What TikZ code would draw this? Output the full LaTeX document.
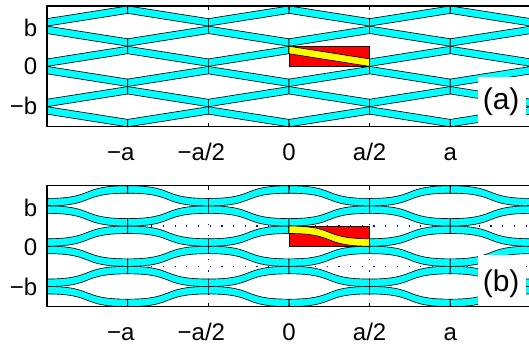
\documentclass[tikz,border=0pt]{standalone}
\usepackage{fontspec}
\setmainfont{Liberation Sans}
\definecolor{bandcyan}{RGB}{0,255,255}
\definecolor{cellred}{RGB}{255,0,0}
\definecolor{cellyellow}{RGB}{255,255,0}
\definecolor{dotblue}{RGB}{0,0,255}
\tikzset{
  band/.style={fill=bandcyan, draw=black, line width=0.65pt, line join=miter},
  cellrect/.style={fill=cellred, draw=black, line width=0.65pt},
  cellband/.style={fill=cellyellow, draw=black, line width=0.65pt},
  frame/.style={draw=black, line width=1.2pt},
  tickmark/.style={draw=black, line width=0.8pt},
  dotline/.style={draw=dotblue, line width=1.2pt, dash pattern=on 1.2pt off 10.5pt},
  ticklabel/.style={inner sep=0pt, font=\fontsize{24}{28}\selectfont},
  panellabel/.style={inner sep=0pt, font=\fontsize{30}{34}\selectfont},
  labelbox/.style={fill=white, draw=none}
}
\newcommand{\bandw}{0.37}
\newcommand{\kk}{0.6}
\begin{document}
\begin{tikzpicture}[x=1pt,y=1pt]
\useasboundingbox (0,0) rectangle (529,348);
\clip (0,0) rectangle (529,348);
% ---------------- panel (a) ----------------
\begin{scope}[shift={(289pt,281.6pt)}, x=80.65pt, y=20.15pt]
  \foreach \m in {-3,...,2}{
    \foreach \n in {-3,...,2}{
      \pgfmathtruncatemacro{\pp}{mod(\m+\n+10,2)}
      \ifnum\pp=0
        \draw[band] ({\m},{\n+1}) -- ({\m+1},{\n+\bandw}) -- ({\m+1},{\n}) -- ({\m},{\n+1-\bandw}) -- cycle;
      \else
        \draw[band] ({\m},{\n}) -- ({\m+1},{\n+1-\bandw}) -- ({\m+1},{\n+1}) -- ({\m},{\n+\bandw}) -- cycle;
      \fi
    }
  }
  \draw[cellrect] (0,0) rectangle (1,1);
  \draw[cellband] (0,1) -- (1,\bandw) -- (1,0) -- (0,1-\bandw) -- cycle;
  \fill[labelbox] (2.34,-3) rectangle (2.94,-0.52);
  \node[panellabel] (la) at (2.63,-1.75) {(a)};
  \draw[frame] (-3,-3) rectangle (3,3);
  \foreach \t in {-2,...,2}{
    \draw[tickmark] (\t,-3) -- (\t,-2.8);
    \draw[tickmark] (\t,3) -- (\t,2.8);
  }
  \foreach \t in {-2,0,2}{
    \draw[tickmark] (-3,\t) -- (-2.95,\t);
    \draw[tickmark] (3,\t) -- (2.95,\t);
  }
\end{scope}
% y tick labels (a)
\node[ticklabel, anchor=base east] (ayb)  at (37.5,311.3) {b};
\node[ticklabel, anchor=base east] (ay0)  at (37.5,273) {0};
\node[ticklabel, anchor=base east] (aymb) at (37.5,233) {−b};
% x tick labels (a)
\node[ticklabel, anchor=base] (axm2) at (127.7,187.5) {\llap{−}a};
\node[ticklabel, anchor=base] (axm1) at (208.35,187.5) {\llap{−}a/2};
\node[ticklabel, anchor=base] (ax0)  at (289,187.5) {0};
\node[ticklabel, anchor=base] (ax1)  at (369.65,187.5) {a/2};
\node[ticklabel, anchor=base] (ax2)  at (450.3,187.5) {a};
% ---------------- panel (b) ----------------
\begin{scope}[shift={(289pt,101.8pt)}, x=80.65pt, y=20.15pt]
  \draw[dotline] (-1,-3) -- (-1,3);
  \draw[dotline] (1,-3) -- (1,3);
  \draw[dotline] (-2,1) -- (3,1);
  \draw[dotline] (-2,-1) -- (3,-1);
  \foreach \m in {-3,...,2}{
    \foreach \n in {-3,...,2}{
      \pgfmathtruncatemacro{\pp}{mod(\m+\n+10,2)}
      \ifnum\pp=0
        \draw[band] ({\m},{\n+1}) .. controls ({\m+\kk},{\n+1}) and ({\m+1-\kk},{\n+\bandw}) .. ({\m+1},{\n+\bandw})
          -- ({\m+1},{\n}) .. controls ({\m+1-\kk},{\n}) and ({\m+\kk},{\n+1-\bandw}) .. ({\m},{\n+1-\bandw}) -- cycle;
      \else
        \draw[band] ({\m},{\n}) .. controls ({\m+\kk},{\n}) and ({\m+1-\kk},{\n+1-\bandw}) .. ({\m+1},{\n+1-\bandw})
          -- ({\m+1},{\n+1}) .. controls ({\m+1-\kk},{\n+1}) and ({\m+\kk},{\n+\bandw}) .. ({\m},{\n+\bandw}) -- cycle;
      \fi
    }
  }
  \draw[cellrect] (0,0) rectangle (1,1);
  \draw[cellband] (0,1) .. controls (\kk,1) and (1-\kk,\bandw) .. (1,\bandw)
    -- (1,0) .. controls (1-\kk,0) and (\kk,1-\bandw) .. (0,1-\bandw) -- cycle;
  \fill[labelbox] (2.34,-3) rectangle (2.94,-0.43);
  \node[panellabel] (lb) at (2.63,-1.85) {(b)};
  \draw[frame] (-3,-3) rectangle (3,3);
  \foreach \t in {-2,...,2}{
    \draw[tickmark] (\t,-3) -- (\t,-2.8);
    \draw[tickmark] (\t,3) -- (\t,2.8);
  }
  \foreach \t in {-2,0,2}{
    \draw[tickmark] (-3,\t) -- (-2.95,\t);
    \draw[tickmark] (3,\t) -- (2.95,\t);
  }
\end{scope}
% y tick labels (b)
\node[ticklabel, anchor=base east] (byb)  at (37.5,131.3) {b};
\node[ticklabel, anchor=base east] (by0)  at (37.5,93) {0};
\node[ticklabel, anchor=base east] (bymb) at (37.5,53) {−b};
% x tick labels (b)
\node[ticklabel, anchor=base] (bxm2) at (127.7,8) {\llap{−}a};
\node[ticklabel, anchor=base] (bxm1) at (208.35,8) {\llap{−}a/2};
\node[ticklabel, anchor=base] (bx0)  at (289,8) {0};
\node[ticklabel, anchor=base] (bx1)  at (369.65,8) {a/2};
\node[ticklabel, anchor=base] (bx2)  at (450.3,8) {a};
\end{tikzpicture}
\end{document}
